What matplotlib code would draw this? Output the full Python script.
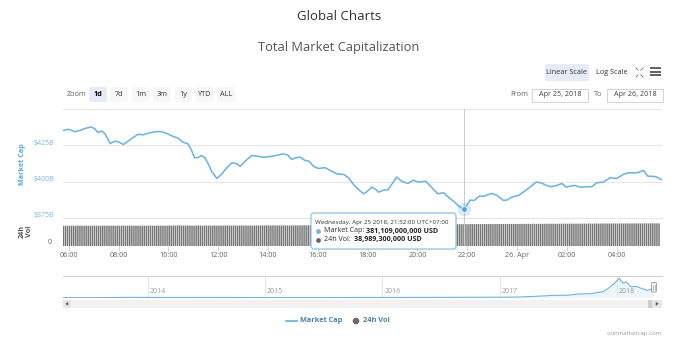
import matplotlib
matplotlib.use("Agg")
import matplotlib.pyplot as plt
from matplotlib.patches import FancyBboxPatch, Rectangle, Circle, Polygon
from matplotlib.transforms import ScaledTranslation
import numpy as np

plt.rcParams['font.family'] = ['Open Sans', 'DejaVu Sans']

# ---------------- data ----------------
cap_times = ["05:47", "05:59", "06:15", "06:27", "06:43", "06:54", "07:02", "07:10", "07:20", "07:27",
             "07:40", "07:52", "08:01", "08:12", "08:28", "08:46", "09:00", "09:12", "09:28", "09:44",
             "09:56", "10:08", "10:24", "10:36", "10:47", "10:55", "11:03", "11:11", "11:20", "11:28",
             "11:36", "11:45", "11:57", "12:09", "12:21", "12:33", "12:45", "12:53", "13:05", "13:21",
             "13:37", "13:49", "13:57", "14:09", "14:24", "14:37", "14:48", "14:57", "15:07", "15:17",
             "15:29", "15:39", "15:49", "16:01", "16:18", "16:30", "16:46", "17:02", "17:14", "17:26",
             "17:38", "17:50", "17:58", "18:10", "18:20", "18:26", "18:38", "18:50", "18:58", "19:10",
             "19:22", "19:37", "19:50", "20:02", "20:20", "20:35", "20:49", "21:03", "21:15", "21:31",
             "21:40", "21:52", "21:59", "22:07", "22:17", "22:29", "22:41", "22:58", "23:11", "23:27",
             "23:35", "23:47", "00:03", "00:15", "00:27", "00:46", "00:58", "01:09", "01:22", "01:36",
             "01:48", "01:58", "02:08", "02:20", "02:32", "02:48", "03:00", "03:12", "03:28", "03:44",
             "04:00", "04:16", "04:28", "04:49", "05:05", "05:15", "05:29", "05:37", "05:47"]
market_cap_b = [435.3, 436.0, 434.4, 435.3, 436.9, 437.6, 436.6, 433.9, 434.8, 433.0,
                426.3, 427.9, 427.2, 425.6, 428.9, 432.5, 432.3, 433.4, 434.4, 434.4,
                433.2, 431.6, 429.8, 427.0, 426.1, 422.2, 416.5, 416.5, 418.0, 416.5,
                412.3, 406.8, 402.2, 405.4, 409.6, 413.0, 412.3, 410.5, 414.1, 418.0,
                417.4, 416.7, 417.1, 417.4, 418.3, 419.2, 418.3, 415.3, 416.5, 416.9,
                414.6, 414.1, 410.7, 409.1, 409.6, 407.7, 405.4, 405.0, 402.7, 398.1,
                394.6, 391.7, 393.0, 396.2, 394.6, 392.8, 394.1, 394.6, 398.1, 403.1,
                400.3, 398.8, 401.0, 399.7, 400.3, 395.8, 391.7, 392.4, 389.3, 385.5,
                383.1, 381.109, 383.8, 387.3, 387.1, 390.0, 390.0, 391.9, 390.7, 387.1,
                387.3, 389.3, 390.5, 392.8, 395.3, 399.7, 399.2, 397.6, 396.5, 397.4,
                398.8, 396.2, 396.9, 397.4, 396.2, 396.5, 396.5, 399.2, 399.7, 402.7,
                402.2, 405.0, 406.1, 406.1, 407.7, 403.8, 403.6, 403.1, 401.5]

vol_start = "05:47"   # 24h volume, one bar every 5 minutes (billions USD)
volume_b = [
    36.1, 36.2, 36.0, 36.3, 36.2, 36.1, 36.4, 36.2, 36.3, 36.0, 36.2, 36.3, 36.1, 36.2, 36.4, 36.3, 36.1, 36.2, 36.0, 36.3, 36.2, 36.4, 36.3, 36.2,
    36.3, 36.2, 36.4, 36.1, 36.3, 36.5, 36.2, 36.4, 36.3, 36.2, 36.5, 36.3, 36.4, 36.2, 36.3, 36.1, 36.4, 36.3, 36.5, 36.2, 36.4, 36.3, 36.2, 36.4,
    36.5, 36.3, 36.4, 36.6, 36.3, 36.5, 36.4, 36.7, 36.9, 36.4, 36.5, 36.3, 36.6, 36.4, 36.5, 36.2, 36.4, 36.6, 36.5, 36.3, 36.4, 36.6, 36.5, 36.4,
    36.4, 36.6, 36.5, 36.3, 36.6, 36.4, 36.5, 36.7, 36.5, 36.4, 36.6, 36.5, 36.3, 36.5, 36.6, 36.4, 36.7, 36.5, 36.6, 36.4, 36.5, 36.7, 36.6, 36.5,
    36.7, 36.6, 36.8, 36.5, 36.7, 36.9, 36.6, 36.8, 36.7, 36.6, 36.9, 36.7, 36.8, 36.6, 36.9, 36.7, 36.8, 36.9, 36.7, 36.8, 37.0, 36.8, 36.9, 37.0,
    37.0, 37.1, 36.9, 37.2, 37.1, 37.0, 37.3, 37.2, 37.1, 37.4, 37.2, 37.3, 37.5, 37.3, 37.4, 37.6, 37.4, 37.5, 37.7, 37.5, 37.6, 37.8, 37.6, 37.7,
    37.8, 37.7, 37.9, 38.0, 37.8, 38.0, 38.1, 37.9, 38.1, 38.2, 38.0, 38.2, 38.3, 38.1, 38.3, 38.4, 38.2, 38.4, 38.5, 38.3, 38.5, 38.6, 38.4, 38.6,
    38.6, 38.5, 38.7, 38.8, 38.6, 38.7, 38.9, 38.7, 38.8, 38.9, 38.7, 38.9, 39.0, 38.8, 38.9, 39.0, 38.8, 38.9, 39.0, 38.9, 38.8, 39.0, 38.9, 39.0,
    38.95, 38.9893, 39.1, 38.9, 39.1, 39.2, 39.0, 39.1, 39.2, 39.0, 39.2, 39.3, 39.1, 39.2, 39.3, 39.1, 39.3, 39.4, 39.2, 39.3, 39.4, 39.2, 39.4, 39.5,
    39.3, 39.4, 39.5, 39.3, 39.5, 39.6, 39.4, 39.5, 39.6, 39.4, 39.6, 39.7, 39.5, 39.6, 39.7, 39.5, 39.7, 39.8, 39.6, 39.7, 39.8, 39.6, 39.7, 39.8,
    39.7, 39.8, 39.9, 39.7, 39.9, 40.0, 39.8, 39.9, 40.0, 39.8, 40.0, 40.1, 39.9, 40.0, 40.1, 39.9, 40.1, 40.2, 40.0, 40.1, 40.2, 40.0, 40.1, 40.2,
    40.1, 40.2, 40.3, 40.1, 40.2, 40.3, 40.1, 40.3, 40.4, 40.2, 40.3, 40.4, 40.2, 40.3, 40.4, 40.2, 40.4, 40.5, 40.3, 40.4, 40.5, 40.3, 40.4, 40.3,
]

x_tick_hours = [6, 8, 10, 12, 14, 16, 18, 20, 22, 24, 26, 28]
x_tick_labels = ["06:00", "08:00", "10:00", "12:00", "14:00", "16:00", "18:00", "20:00",
                 "22:00", "26. Apr", "02:00", "04:00"]
cap_ticks = [375, 400, 425, 450]
cap_tick_labels = ["$375B", "$400B", "$425B", ""]

# navigator: whole history of total market cap (billions USD)
nav_years = [2013.28, 2013.6, 2013.85, 2013.93, 2014.1, 2014.5, 2015.0, 2015.5, 2016.0, 2016.5,
             2017.0, 2017.15, 2017.29, 2017.46, 2017.58, 2017.67, 2017.78, 2017.88, 2017.93,
             2017.98, 2018.02, 2018.05, 2018.08, 2018.12, 2018.16, 2018.2, 2018.26, 2018.31]
nav_cap_b = [1.5, 1.2, 12, 9, 8, 7, 4, 4, 7, 11,
             18, 25, 50, 95, 100, 150, 165, 250, 400,
             600, 810, 600, 650, 450, 470, 400, 300, 380]
nav_year_ticks = [2014, 2015, 2016, 2017, 2018]

hover_time = "21:52"
hover_cap = 381.109
hover_vol = 38.9893

# ---------------- helpers ----------------
W, H = 696, 342
fig = plt.figure(figsize=(W / 100, H / 100), dpi=100)
fig.patch.set_facecolor("white")


def rect(x0, y0, x1, y1):
    return [x0 / W, 1 - y1 / H, (x1 - x0) / W, (y1 - y0) / H]


def to_hours(times):
    out, day = [], 0
    prev = -1
    for t in times:
        h, m = t.split(":")
        v = int(h) + int(m) / 60
        if v < prev:
            day += 24
        prev = v
        out.append(v + day)
    return out


cap_hours = to_hours(cap_times)
h0 = to_hours([vol_start])[0]
vol_hours = h0 + np.arange(len(volume_b)) * 5 / 60
hover_h = to_hours([hover_time])[0]

BLUE = "#6fb3e4"
GRID = "#e6e6e6"
XMIN, XMAX = 5.77, 29.82

# ---------------- main panel ----------------
ax = fig.add_axes(rect(63, 109, 662, 218))
ax.plot(cap_hours, market_cap_b, color=BLUE, lw=1.15, solid_joinstyle="round", zorder=3)
ax.set_xlim(XMIN, XMAX)
ax.set_ylim(375, 450)
ax.set_yticks(cap_ticks)
ax.set_yticklabels(cap_tick_labels)
ax.yaxis.grid(True, color=GRID, lw=0.75)
ax.set_xticks([])
ax.tick_params(axis="y", length=0, pad=6.5, labelsize=5, labelcolor="#7ab7e6")
for lab in ax.get_yticklabels():
    lab.set_horizontalalignment("right")
    lab.set_transform(lab.get_transform() + ScaledTranslation(0, 3 / 100, fig.dpi_scale_trans))
for s in ax.spines.values():
    s.set_visible(False)
ax.axvline(hover_h, color="#cccccc", lw=0.75, zorder=2)
ax.plot([hover_h], [hover_cap], "o", ms=10, color=BLUE, alpha=0.25, mec="none", zorder=4, clip_on=False)
ax.plot([hover_h], [hover_cap], "o", ms=4, color="#4aa3df", mec="white", mew=0.5, zorder=5, clip_on=False)

# ---------------- volume panel ----------------
axv = fig.add_axes(rect(63, 218, 662, 246))
axv.bar(vol_hours, volume_b, width=5 / 60 * 0.72, color="#767676", align="center", lw=0, snap=False)
axv.set_xlim(XMIN, XMAX)
axv.set_ylim(0, 50)
axv.set_yticks([0])
axv.set_yticklabels(["0"])
axv.tick_params(axis="y", length=0, pad=8, labelsize=5, labelcolor="#666666")
for lab in axv.get_yticklabels():
    lab.set_horizontalalignment("right")
    lab.set_transform(lab.get_transform() + ScaledTranslation(0, 4 / 100, fig.dpi_scale_trans))
axv.set_xticks(x_tick_hours)
axv.set_xticklabels(x_tick_labels)
axv.tick_params(axis="x", length=3.5, width=0.7, color="#ccd6eb", pad=1, labelsize=5.2, labelcolor="#666666")
for k, s in axv.spines.items():
    s.set_visible(k == "top")
axv.spines["top"].set_color(GRID)
axv.spines["top"].set_linewidth(0.75)
axv.axvline(hover_h, color="#cccccc", lw=0.75, zorder=3)

# ---------------- navigator ----------------
axn = fig.add_axes(rect(63, 276, 662, 298))
axn.plot(nav_years, nav_cap_b, color=BLUE, lw=0.8)
axn.fill_between(nav_years, nav_cap_b, 0, color=BLUE, alpha=0.12, lw=0)
axn.set_xlim(2013.275, 2018.384)
axn.set_ylim(-15, 900)
axn.set_xticks(nav_year_ticks)
axn.set_xticklabels([])
axn.set_yticks([])
axn.xaxis.grid(True, color=GRID, lw=0.75)
axn.tick_params(length=0)
for k, s in axn.spines.items():
    s.set_visible(k == "top")
axn.spines["top"].set_color("#cccccc")
axn.spines["top"].set_linewidth(0.75)
for yr in nav_year_ticks:
    axn.text(yr + 0.015, 0.12, str(yr), transform=axn.get_xaxis_transform(),
             fontsize=5, color="#999999", ha="left", va="bottom")

# ---------------- overlay (UI, tooltip, legend) ----------------
ov = fig.add_axes([0, 0, 1, 1], zorder=10)
ov.set_xlim(0, W)
ov.set_ylim(H, 0)
ov.axis("off")
ov.patch.set_alpha(0)


def box(x0, y0, x1, y1, fc, ec="none", lw=0.0, r=2.0, z=1):
    p = FancyBboxPatch((x0, y0), x1 - x0, y1 - y0, boxstyle=f"round,pad=0,rounding_size={r}",
                       fc=fc, ec=ec, lw=lw, zorder=z)
    ov.add_patch(p)


ov.text(339, 16, "Global Charts", ha="center", va="center", fontsize=9.5, color="#333333")
ov.text(339, 48, "Total Market Capitalization", ha="center", va="center", fontsize=9.3, color="#555555")

# zoom buttons
ov.text(67, 94.5, "Zoom", ha="left", va="center", fontsize=5.2, color="#666666")
btns = [("1d", 89, 107), ("7d", 110, 128), ("1m", 132, 149), ("3m", 153, 171),
        ("1y", 175, 192), ("YTD", 196, 214), ("ALL", 217, 236)]
for i, (lbl, x0, x1) in enumerate(btns):
    box(x0, 87, x1, 102, "#e6ebf5" if i == 0 else "#f7f7f7", r=2)
    ov.text((x0 + x1) / 2, 94.5, lbl, ha="center", va="center", fontsize=5.2,
            color="#000000" if i == 0 else "#333333", fontweight="bold" if i == 0 else "normal")

# scale buttons
box(545, 64, 589, 81, "#e6ebf5", r=2)
ov.text(567, 72.5, "Linear Scale", ha="center", va="center", fontsize=5.2, color="#333333")
ov.text(611.5, 72.5, "Log Scale", ha="center", va="center", fontsize=5.2, color="#333333")
# full screen icon
for (cx, cy, dx, dy) in [(636, 68, 1, 1), (643, 68, -1, 1), (636, 77, 1, -1), (643, 77, -1, -1)]:
    ov.plot([cx, cx + 2.2 * dx], [cy, cy + 2.2 * dy], color="#777777", lw=0.6)
# hamburger
for yy in (68, 71.5, 75):
    ov.plot([650, 661], [yy, yy], color="#555555", lw=1.3, solid_capstyle="butt")

# from / to
ov.text(528, 95, "From", ha="right", va="center", fontsize=5.2, color="#666666")
ov.add_patch(Rectangle((532, 88.5), 56, 13, fc="white", ec="#cccccc", lw=0.6))
ov.text(560, 95, "Apr 25, 2018", ha="center", va="center", fontsize=5.2, color="#444444")
ov.text(602, 95, "To", ha="right", va="center", fontsize=5.2, color="#666666")
ov.add_patch(Rectangle((607, 88.5), 56, 13, fc="white", ec="#cccccc", lw=0.6))
ov.text(635, 95, "Apr 26, 2018", ha="center", va="center", fontsize=5.2, color="#444444")

# axis titles
ov.text(23, 164, "Market Cap", rotation=90, ha="center", va="center", fontsize=5.2,
        color="#5ba8e0", fontweight="bold")
ov.text(26, 231, "24h\nVol", rotation=90, ha="center", va="center", fontsize=5.2,
        color="#555555", fontweight="bold", linespacing=0.95)

# tooltip
shadow = FancyBboxPatch((312, 214), 145, 36, boxstyle="round,pad=0,rounding_size=3",
                        fc="#000000", alpha=0.06, ec="none", zorder=5)
ov.add_patch(shadow)
box(311, 213, 456, 249, "#ffffff", ec="#8ec4ea", lw=0.9, r=3, z=6)
ov.text(315, 222.5, "Wednesday, Apr 25 2018, 21:52:00 UTC+07:00", ha="left", va="center",
        fontsize=4.5, color="#333333", zorder=7)
ov.plot([318], [231], "o", ms=2.4, color=BLUE, zorder=7)
ov.text(323.5, 231, "Market Cap:", ha="left", va="center", fontsize=5.1, color="#333333", zorder=7)
ov.text(365.5, 231, f"{hover_cap * 1e9:,.0f} USD", ha="left", va="center", fontsize=5.1,
        color="#222222", fontweight="bold", zorder=7)
ov.plot([318], [239.5], "o", ms=2.4, color="#666666", zorder=7)
ov.text(323.5, 239.5, "24h Vol:", ha="left", va="center", fontsize=5.1, color="#333333", zorder=7)
ov.text(353.5, 239.5, f"{hover_vol * 1e9:,.0f} USD", ha="left", va="center", fontsize=5.1,
        color="#222222", fontweight="bold", zorder=7)

# navigator handle
box(651.5, 282.5, 656.5, 292, "#f2f2f2", ec="#999999", lw=0.6, r=1)
for xx in (653.3, 654.7):
    ov.plot([xx, xx], [285, 289.5], color="#999999", lw=0.4)

# scrollbar
ov.add_patch(Rectangle((63, 299.5), 599, 8.5, fc="#f2f2f2", ec="none"))
ov.add_patch(Rectangle((63, 299.5), 8, 8.5, fc="#e6e6e6", ec="none"))
ov.add_patch(Polygon([[68.2, 301.8], [68.2, 305.8], [65.5, 303.8]], closed=True, fc="#555555", ec="none"))
ov.add_patch(Rectangle((648, 299.5), 4, 8.5, fc="#cccccc", ec="none"))
ov.add_patch(Rectangle((652, 299.5), 10, 8.5, fc="#e6e6e6", ec="none"))
ov.add_patch(Polygon([[655.8, 301.8], [655.8, 305.8], [658.5, 303.8]], closed=True, fc="#555555", ec="none"))

# legend
ov.plot([286, 296.5], [321, 321], color=BLUE, lw=1.3)
ov.text(299.5, 321, "Market Cap", ha="left", va="center", fontsize=5.3, color="#4a7fb6", fontweight="bold")
ov.add_patch(Circle((356, 321), 3.3, fc="#6a6a6a", ec="none"))
ov.text(363, 321, "24h Vol", ha="left", va="center", fontsize=5.3, color="#4a7fb6", fontweight="bold")

# credits
ov.text(662, 334, "coinmarketcap.com", ha="right", va="center", fontsize=4.3, color="#999999")

fig.savefig("out.png", dpi=100, facecolor="white")
